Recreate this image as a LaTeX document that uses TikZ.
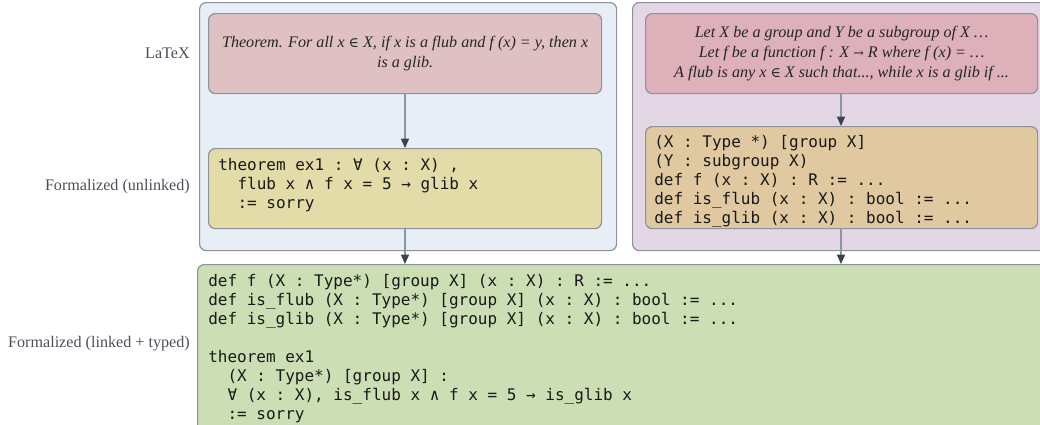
\documentclass[tikz,border=0pt]{standalone}
\usepackage{fontspec}
\usetikzlibrary{arrows.meta,positioning}
\setmainfont{Liberation Serif}
\setmonofont{DejaVu Sans Mono}
\newfontfamily\symfont{DejaVu Serif}
\newcommand{\elem}{{\upshape\symfont\fontsize{10.5pt}{15pt}\selectfont ∈}}
\definecolor{lblue}{HTML}{E7EEF6}
\definecolor{lpurple}{HTML}{E3D7E6}
\definecolor{pinkA}{HTML}{E0C1C3}
\definecolor{pinkB}{HTML}{DDB0BA}
\definecolor{yellowA}{HTML}{E3DCA8}
\definecolor{tanB}{HTML}{E0C9A0}
\definecolor{greenC}{HTML}{CCDEB4}
\definecolor{edgegray}{HTML}{8E939A}
\definecolor{linegray}{HTML}{8A95A5}
\definecolor{arrowdark}{HTML}{3B4252}
\definecolor{labelgray}{HTML}{4A4F5A}
\tikzset{
  container/.style={draw=edgegray, line width=0.9pt, rounded corners=5pt, anchor=north west, inner sep=0pt},
  textbox/.style={draw=edgegray, line width=0.9pt, rounded corners=5pt, anchor=north west, inner sep=0pt},
  prose/.style={align=center, font=\itshape\fontsize{12.1pt}{15pt}\selectfont, text=black!85},
  code/.style={align=left, inner sep=0pt, font=\ttfamily\fontsize{12pt}{14.25pt}\selectfont, text=black!90, anchor=west},
  rowlabel/.style={anchor=east, inner sep=0pt, font=\fontsize{12.1pt}{14pt}\selectfont, text=labelgray},
  flow/.style={draw=linegray, line width=1.1pt, -{Triangle[length=7pt,width=6pt,color=arrowdark,fill=arrowdark]}}
}
\begin{document}
\begin{tikzpicture}[x=0.75pt,y=-0.75pt]
\useasboundingbox (0,0) rectangle (1040,425);
% containers
\node[container, fill=lblue, minimum width=417*0.75pt, minimum height=248*0.75pt] (cl) at (199,2) {};
\node[container, fill=lpurple, minimum width=420*0.75pt, minimum height=248*0.75pt] (cr) at (632,2) {};
% left column
\node[textbox, fill=pinkA, minimum width=393*0.75pt, minimum height=80*0.75pt] (lt) at (208,13) {};
\node[prose] (ltt) at (lt.center) {Theorem. For all \textit{x} \elem{} \textit{X}, if \textit{x} is a flub and \textit{f} (\textit{x}) = \textit{y}, then \textit{x}\\is a glib.};
\node[textbox, fill=yellowA, minimum width=393*0.75pt, minimum height=80*0.75pt] (lc) at (208,148) {};
\node[code] (lct) at (218,185) {theorem ex1 : ∀ (x : X) ,\\\ \ flub x ∧ f x = 5 → glib x\\\ \ := sorry};
% right column
\node[textbox, fill=pinkB, minimum width=392*0.75pt, minimum height=80*0.75pt] (rt) at (645,13) {};
\node[prose] (rtt) at (rt.center) {Let \textit{X} be a group and \textit{Y} be a subgroup of \textit{X} …\\Let \textit{f} be a function \textit{f} : \textit{X} {\upshape\symfont\fontsize{9.5pt}{15pt}\selectfont →} \textit{R} where \textit{f} (\textit{x}) = …\\A flub is any \textit{x} \elem{} \textit{X} such that..., while \textit{x} is a glib if ...};
\node[textbox, fill=tanB, minimum width=392*0.75pt, minimum height=102*0.75pt] (rc) at (645,126) {};
\node[code] (rct) at (654,181.5) {(X : Type *) [group X]\\(Y : subgroup X)\\def f (x : X) : R := ...\\def is\_flub (x : X) : bool := ...\\def is\_glib (x : X) : bool := ...};
% bottom
\node[textbox, fill=greenC, minimum width=860*0.75pt, minimum height=170*0.75pt] (bot) at (197,264) {};
\node[code] (bott) at (208,348.5) {def f (X : Type*) [group X] (x : X) : R := ...\\def is\_flub (X : Type*) [group X] (x : X) : bool := ...\\def is\_glib (X : Type*) [group X] (x : X) : bool := ...\\[14.25pt]theorem ex1\\\ \ (X : Type*) [group X] :\\\ \ ∀ (x : X), is\_flub x ∧ f x = 5 → is\_glib x\\\ \ := sorry};
% labels
\node[rowlabel] (l1) at (190,53) {LaTeX};
\node[rowlabel] (l2) at (190,187) {Formalized (unlinked)};
\node[rowlabel] (l3) at (190,344) {Formalized (linked + typed)};
% arrows
\coordinate (lcx) at (405,0);
\coordinate (rcx) at (841,0);
\draw[flow] (lt.south -| lcx) -- (lc.north -| lcx);
\draw[flow] (lc.south -| lcx) -- (bot.north -| lcx);
\draw[flow] (rt.south -| rcx) -- (rc.north -| rcx);
\draw[flow] (rc.south -| rcx) -- (bot.north -| rcx);
\end{tikzpicture}
\end{document}
